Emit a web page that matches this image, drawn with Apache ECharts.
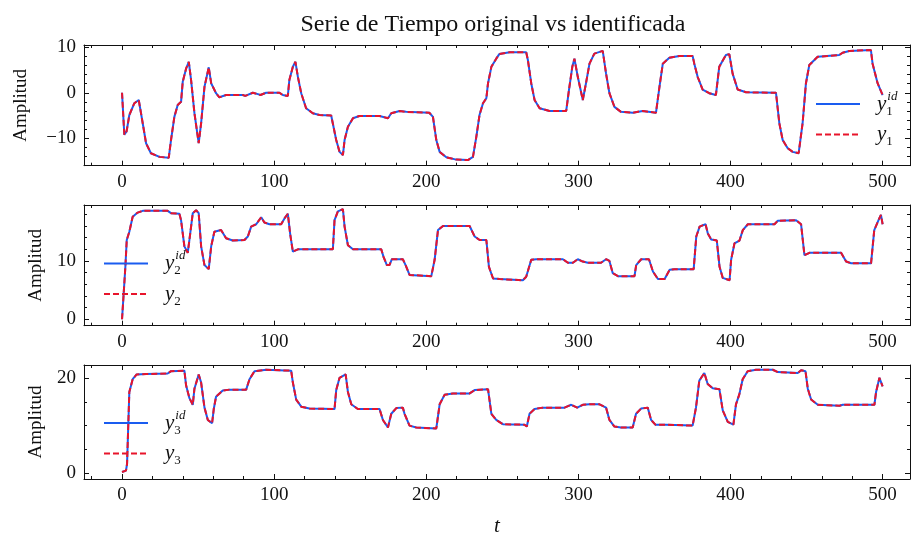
<!DOCTYPE html>
<html>
<head>
<meta charset="utf-8">
<script src="https://cdn.jsdelivr.net/npm/echarts@6/dist/echarts.min.js"></script>
<style>html,body{margin:0;padding:0;background:#fff}#c{width:912px;height:538px}</style>
</head>
<body>
<div id="c"></div>
<script>
// ---- data (t, amplitude) ----
const T1 = [0,1,1.5,3,4.8,8.1,11,13.6,15.8,19,24.6,30.7,32.2,34.4,36.6,38.8,39.9,42.1,43.9,45.4,47.6,50.4,52,54.2,57,58.6,61.8,64,68.4,79.4,81,86,89.3,91,94.7,103.5,105.7,109,110,112.3,114,115.6,117.8,121,125.4,129.8,137.5,138.6,140.8,143,145.2,146.3,148.5,151.8,156,169.3,174.8,177,182.5,186.8,202,204.4,206.6,208.8,213.2,219.7,227.4,230.7,232.9,235,237.3,239.5,240.6,242.8,246,248,254.8,265.7,266.8,269,271.2,274.5,281,292,293.8,296,297.4,299.6,302.9,305,307.3,310.5,316,318.2,320.4,323.7,328,335.7,342.3,351,353.3,355.5,359.8,366.4,375.1,376.2,378.4,381.7,386,390.4,392.6,397,399.2,401.4,404.7,410.2,429.9,432.1,434.3,437.6,440.9,444.8,447.4,449.6,451.8,457.3,471.5,473.7,478.1,492.3,493.4,496.7,500];
const Y1 = [0,0,-9.2,-8.5,-4.9,-2.3,-1.6,-6.7,-11.1,-13.3,-14.1,-14.3,-10.4,-5.3,-2.7,-2.0,2.4,5.3,6.8,2.8,-4.5,-11.1,-6.7,1.3,5.6,2.1,-0.1,-1.0,-0.5,-0.5,-0.7,0,-0.3,-0.5,0,0,-0.5,-0.7,2.8,5.7,6.8,3.5,-0.1,-3.4,-4.5,-4.9,-5.0,-5.3,-10.4,-13.0,-13.7,-10.4,-7.5,-5.6,-5.1,-5.1,-5.6,-4.5,-4.0,-4.2,-4.4,-5.3,-10.4,-13.0,-14.2,-14.7,-14.8,-14.1,-9.7,-4.9,-2.3,-1.2,2.1,5.7,7.5,8.5,8.9,8.9,7.2,2.1,-1.6,-3.4,-4.0,-4.0,0.6,5.7,7.5,3.5,-1.6,2.1,6.4,8.6,9.2,4.2,-0.1,-3.1,-4.2,-4.4,-4.0,-4.4,1.3,6.4,7.7,8.1,8.1,6.4,3.5,0.7,-0.1,-0.5,5.7,8.3,8.5,4.2,0.7,0.1,0,-6.7,-10.4,-12.2,-13.0,-13.3,-6.7,2.1,6.1,7.9,8.3,8.8,9.2,9.4,6.4,2.1,-0.5];

const T2 = [0,1.1,2.2,3.1,4.8,7,10.3,13.6,30,32.2,37.7,38.8,41,43.2,44.3,46.5,48.7,50.4,52,54.2,57,58.6,60.7,65.1,68.4,72.8,80.5,82.7,84.9,88.2,91.5,93.6,96.9,104.6,106.8,109,110.5,112.3,115.6,138.6,139.7,141.9,145.2,146.3,148.5,151.8,170.4,171.9,174.1,175.8,177.4,184.6,186.4,189,203.3,205.5,207.7,211,228.5,231.8,235.1,239.5,241.2,243.9,248.2,263.5,265.7,269,272.3,289.8,293.1,296.4,299.6,302.9,306.2,314.9,318.2,320.4,322.6,326,336.9,338,341.3,346.4,349,352.3,356.7,360,363.3,375.8,377.5,379.7,383.6,385.1,387.3,391,392.8,394.9,399.4,400.4,402.6,405.9,408.1,411.4,428.9,431.1,443.1,446.4,448.6,451.9,472.7,476,479.3,492.4,494.5,497.8,498.9,500];
const Y2 = [0,0.2,9.0,13.6,15.0,17.6,18.3,18.6,18.6,18.2,18.1,17.0,12.5,11.4,13.6,18.2,18.7,18.2,12.5,9.3,8.6,12.5,15.0,15.3,13.9,13.5,13.6,14.2,15.9,16.3,17.5,16.6,16.3,16.3,17.3,18.1,14.7,11.6,12.0,12.0,17.0,18.5,18.9,15.9,12.7,12.0,12.0,10.7,9.3,9.3,10.3,10.3,9.3,7.6,7.4,10.2,15.3,16.0,16.0,14.2,13.6,13.6,9.0,7.0,6.9,6.7,7.3,10.2,10.3,10.3,9.7,9.7,10.3,9.9,9.7,9.7,10.3,10.0,7.9,7.4,7.4,9.3,10.3,10.3,8.2,6.9,6.9,8.5,8.6,8.6,14.2,15.9,16.3,14.7,13.7,13.5,9.0,7.1,6.7,10.2,13.0,13.5,15.3,16.3,16.3,16.9,17.0,16.3,11.0,11.4,11.4,9.9,9.6,9.6,15.3,17.3,17.9,16.3];

const T3 = [0,2.6,3.3,4.8,7,9.6,15.8,30,32.2,41,42.1,44.3,46.5,47.6,50.4,52,54.2,56.4,59.2,60.3,61.8,66.2,70.6,81.6,83.8,87.1,94.7,111.2,112.3,114.5,117.8,123.2,139.7,140.8,143,147,148.5,150.7,155,169.3,171.5,174.8,177,180.3,184.6,185.7,189,193.4,206.6,208.8,212,217.5,228.5,231.8,240.6,242.8,246,250.4,264.6,266.1,267.9,271.2,276.6,290.9,295.3,299.2,302.9,307.3,313.9,318.2,320.4,323.7,328,335.7,337.9,341.2,345.6,347.8,350.6,357.6,375.1,377.3,379.5,382.8,385,388.3,392.7,394.9,398.2,401.9,403.6,405.8,408,411.3,416.8,427.8,431.1,444.2,446.4,449.3,450.8,453,457.4,471.6,473.8,494.6,495.7,497.9,500];
const Y3 = [0.2,0.5,1.9,17.1,19.8,20.8,20.9,21.0,21.5,21.6,18.5,15.8,14.4,17.8,20.8,19.1,13.8,11.2,10.5,13.5,16.1,17.4,17.6,17.6,19.8,21.5,21.8,21.6,19.1,15.5,14.0,13.6,13.5,17.5,20.1,20.8,17.1,14.5,13.5,13.5,11.2,9.6,12.5,13.7,13.8,12.5,10.0,9.6,9.4,14.5,16.5,16.8,16.8,17.5,17.7,12.5,11.2,10.3,10.2,9.8,12.5,13.5,13.8,13.8,14.4,13.8,14.4,14.5,14.5,13.8,11.2,9.8,9.6,9.6,12.5,13.6,13.8,11.2,10.2,10.2,10.0,13.8,19.5,21.1,18.8,17.9,17.7,13.2,10.8,10.2,14.5,16.6,19.8,21.5,21.8,21.8,21.3,21.1,21.7,21.5,17.8,15.5,14.4,14.2,14.4,14.4,17.1,20.1,18.3];

// identified outputs coincide with the original outputs in the picture
const Y1_ID = Y1, Y2_ID = Y2, Y3_ID = Y3;

const X_MAJOR = [0,100,200,300,400,500];
const X_MINOR = [-20,20,40,60,80,120,140,160,180,220,240,260,280,320,340,360,380,420,440,460,480];
const Y_MAJOR = [[-10,0,10],[0,10],[0,20]];
const Y_MINOR = [[-14,-12,-8,-6,-4,-2,2,4,6,8],[2,4,6,8,12,14,16,18],[5,10,15]];
const Y_RANGE = [[-16.04,10.5],[-1.1,19.6],[-1.27,22.8]];
const X_RANGE = [-25,518];

const NAMES = [['y1id','y1'],['y2id','y2'],['y3id','y3']];
const LABELS = {
  y1id:'{v|y}{s|1}{p|id}', y1:'{v|y}{t|1}',
  y2id:'{v|y}{s|2}{p|id}', y2:'{v|y}{t|2}',
  y3id:'{v|y}{s|3}{p|id}', y3:'{v|y}{t|3}'
};

const FONT = 'Liberation Serif';
const BLUE = '#1a5cf0', RED = '#e8142b';
const tops = [45,205,365];

function pairs(t, y){ return t.map((v,i)=>[v,y[i]]); }
const fmt = v => v < 0 ? '\u2212' + Math.abs(v) : String(v);
const axisLineStyle = {color:'#111', width:1};

const grids = [], xAxes = [], yAxes = [], series = [], legends = [];
for (let g = 0; g < 3; g++) {
  grids.push({left:84, right:2, top:tops[g], height:120.7});
  const xb = {gridIndex:g, type:'value', min:X_RANGE[0], max:X_RANGE[1], splitLine:{show:false}};
  xAxes.push(Object.assign({}, xb, {position:'bottom',
    axisLine:{show:true,onZero:false,lineStyle:axisLineStyle},
    axisTick:{show:true,inside:true,length:5,customValues:X_MAJOR,lineStyle:{color:'#111'}},
    axisLabel:{show:true,customValues:X_MAJOR,margin:7,fontFamily:FONT,fontSize:19,color:'#111'},
    name: g===2 ? 't' : '', nameLocation:'middle', nameGap:37,
    nameTextStyle:{fontFamily:FONT,fontStyle:'italic',fontSize:21,color:'#111'}}));
  xAxes.push(Object.assign({}, xb, {position:'bottom', axisLine:{show:false,onZero:false},
    axisTick:{show:true,inside:true,length:3,customValues:X_MINOR,lineStyle:{color:'#111'}}, axisLabel:{show:false}}));
  xAxes.push(Object.assign({}, xb, {position:'top',
    axisLine:{show:true,onZero:false,lineStyle:axisLineStyle},
    axisTick:{show:true,inside:true,length:5,customValues:X_MAJOR,lineStyle:{color:'#111'}}, axisLabel:{show:false}}));
  xAxes.push(Object.assign({}, xb, {position:'top', axisLine:{show:false,onZero:false},
    axisTick:{show:true,inside:true,length:3,customValues:X_MINOR,lineStyle:{color:'#111'}}, axisLabel:{show:false}}));

  const yb = {gridIndex:g, type:'value', min:Y_RANGE[g][0], max:Y_RANGE[g][1], splitLine:{show:false}};
  yAxes.push(Object.assign({}, yb, {position:'left',
    axisLine:{show:true,onZero:false,lineStyle:axisLineStyle},
    axisTick:{show:true,inside:true,length:5,customValues:Y_MAJOR[g],lineStyle:{color:'#111'}},
    axisLabel:{show:true,customValues:Y_MAJOR[g],margin:8,formatter:fmt,fontFamily:FONT,fontSize:19,color:'#111'},
    name:'Amplitud', nameLocation:'middle', nameGap: g===0 ? 53 : 38,
    nameTextStyle:{fontFamily:FONT,fontSize:19,color:'#111'}}));
  yAxes.push(Object.assign({}, yb, {position:'left', axisLine:{show:false,onZero:false},
    axisTick:{show:true,inside:true,length:3,customValues:Y_MINOR[g],lineStyle:{color:'#111'}}, axisLabel:{show:false}}));
  yAxes.push(Object.assign({}, yb, {position:'right',
    axisLine:{show:true,onZero:false,lineStyle:axisLineStyle},
    axisTick:{show:true,inside:true,length:5,customValues:Y_MAJOR[g],lineStyle:{color:'#111'}}, axisLabel:{show:false}}));
  yAxes.push(Object.assign({}, yb, {position:'right', axisLine:{show:false,onZero:false},
    axisTick:{show:true,inside:true,length:3,customValues:Y_MINOR[g],lineStyle:{color:'#111'}}, axisLabel:{show:false}}));
}

const DATA = [[T1,Y1_ID,Y1],[T2,Y2_ID,Y2],[T3,Y3_ID,Y3]];
for (let g = 0; g < 3; g++) {
  const [t, yid, y] = DATA[g];
  series.push({name:NAMES[g][0], type:'line', xAxisIndex:4*g, yAxisIndex:4*g, data:pairs(t,yid),
    showSymbol:false, symbol:'none', lineStyle:{color:BLUE,width:2}, itemStyle:{color:BLUE}, z:2});
  series.push({name:NAMES[g][1], type:'line', xAxisIndex:4*g, yAxisIndex:4*g, data:pairs(t,y),
    showSymbol:false, symbol:'none', lineStyle:{color:RED,width:2,type:[6,3]}, itemStyle:{color:RED}, z:3});
}

const legendPos = [[815,90],[103,249.5],[103,409]];
const rich = {
  v:{fontFamily:FONT,fontStyle:'italic',fontSize:21,lineHeight:28,verticalAlign:'middle',color:'#111',padding:[0,0,0,12]},
  s:{fontFamily:FONT,fontSize:13,lineHeight:13,verticalAlign:'bottom',color:'#111',width:1},
  t:{fontFamily:FONT,fontSize:13,lineHeight:13,verticalAlign:'bottom',color:'#111'},
  p:{fontFamily:FONT,fontStyle:'italic',fontSize:13,lineHeight:13,verticalAlign:'top',color:'#111'}
};
for (let g = 0; g < 3; g++) {
  legends.push({data:NAMES[g].map(n => ({name:n, itemStyle:{opacity:0}})), orient:'vertical',
    left:legendPos[g][0], top:legendPos[g][1],
    itemWidth:44, itemHeight:14, itemGap:6, padding:0,
    itemStyle:{opacity:0},
    formatter: n => LABELS[n], textStyle:{rich:rich}, selectedMode:false});
}

const chart = echarts.init(document.getElementById('c'), null, {renderer:'canvas'});
chart.setOption({
  backgroundColor:'#fff',
  animation:false,
  title:{text:'Serie de Tiempo original vs identificada', left:488, top:8, textAlign:'center',
    textStyle:{fontFamily:FONT,fontSize:24,fontWeight:'normal',color:'#111'}},
  grid:grids, xAxis:xAxes, yAxis:yAxes, series:series, legend:legends
});
</script>
</body>
</html>
